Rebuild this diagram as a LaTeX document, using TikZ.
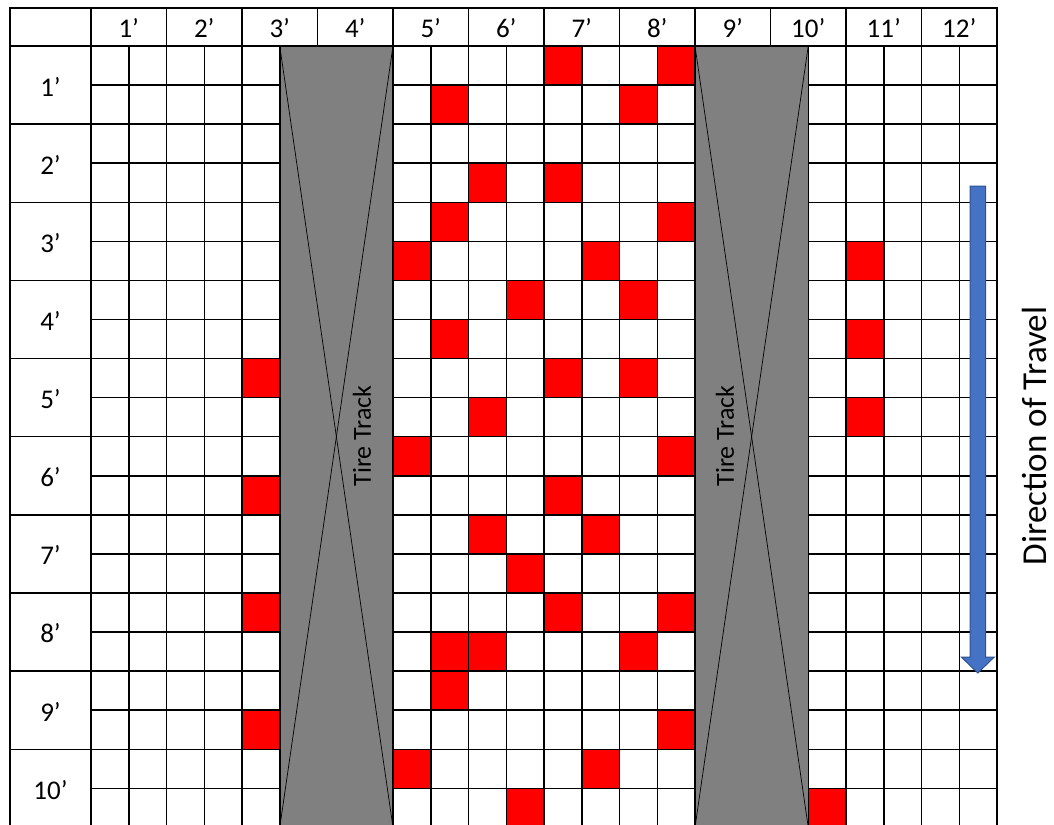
\documentclass[tikz,border=0pt]{standalone}
\usepackage{fontspec}
\setmainfont{Carlito}
\definecolor{trackgray}{HTML}{808080}
\definecolor{arrowblue}{HTML}{4472C4}
\definecolor{arrowedge}{HTML}{2F528F}
\newcommand{\cellw}{37.75}
\newcommand{\cellh}{39.07}
\newcommand{\gridx}{91}
\newcommand{\gridy}{46}

\begin{document}
\begin{tikzpicture}[
    x=1pt, y=-1pt,
    every node/.style={font=\fontsize{27}{32}\selectfont, inner sep=0pt},
    grid/.style={line width=1.5pt, line cap=rect},
    hit/.style={fill=red},
    track/.style={draw, line width=1.5pt, fill=trackgray, anchor=north west, minimum width=3*\cellw*1pt, minimum height=20*\cellh*1pt, outer sep=0pt},
    cross/.style={line width=0.7pt},
    tracklabel/.style={rotate=90, font=\fontsize{26}{31}\selectfont},
    travel/.style={draw=arrowedge, fill=arrowblue, line width=1pt, line join=miter}
]
\clip (0,0) rectangle (1054,824);
\foreach \c/\r in {12/0,15/0,9/1,14/1,10/3,12/3,9/4,15/4,8/5,13/5,20/5,11/6,14/6,9/7,20/7,
    4/8,12/8,14/8,10/9,20/9,8/10,15/10,4/11,12/11,10/12,13/12,11/13,4/14,12/14,15/14,
    9/15,10/15,14/15,9/16,4/17,15/17,8/18,13/18,11/19,19/19}
    \fill[hit] ({\gridx+\c*\cellw},{\gridy+\r*\cellh}) rectangle ++(\cellw,\cellh);
\foreach \c in {0,...,24}
    \draw[grid] ({\gridx+\c*\cellw},\gridy) -- ++(0,20*\cellh);
\foreach \r in {0,...,20}
    \draw[grid] (\gridx,{\gridy+\r*\cellh}) -- ++(24*\cellw,0);
\node[track] (trackA) at ({\gridx+5*\cellw},\gridy) {};
\node[track] (trackB) at ({\gridx+16*\cellw},\gridy) {};
\draw[cross] (trackA.north west) -- (trackA.south east);
\draw[cross] (trackA.north east) -- (trackA.south west);
\draw[cross] (trackB.north west) -- (trackB.south east);
\draw[cross] (trackB.north east) -- (trackB.south west);
\draw[grid] (10,{\gridy+20*\cellh}) |- ({\gridx+24*\cellw},8) -- ({\gridx+24*\cellw},\gridy);
\draw[grid] (10,\gridy) -- (\gridx,\gridy);
\foreach \k in {0,...,11}
    \draw[grid] ({\gridx+2*\k*\cellw},8) -- ({\gridx+2*\k*\cellw},\gridy);
\foreach \k in {1,...,9}
    \draw[grid] (10,{\gridy+2*\k*\cellh}) -- (\gridx,{\gridy+2*\k*\cellh});
\foreach \i in {1,...,12}
    \node (col\i) at ({\gridx+(2*\i-1)*\cellw},28) {\i’};
\foreach \i in {1,...,10}
    \node (row\i) at (50.5,{\gridy+(2*\i-1)*\cellh+1.5}) {\i’};
\node[tracklabel] (tireA) at (362,436) {Tire Track};
\node[tracklabel] (tireB) at (725,436) {Tire Track};
\draw[travel] (970,186) -- (985.7,186) -- (985.7,657) -- (994.3,657) -- (977.8,673)
    -- (961.3,657) -- (970,657) -- cycle;
\node[rotate=90, font=\fontsize{35}{41}\selectfont] (direction) at (1034,436) {Direction of Travel};
\end{tikzpicture}
\end{document}
